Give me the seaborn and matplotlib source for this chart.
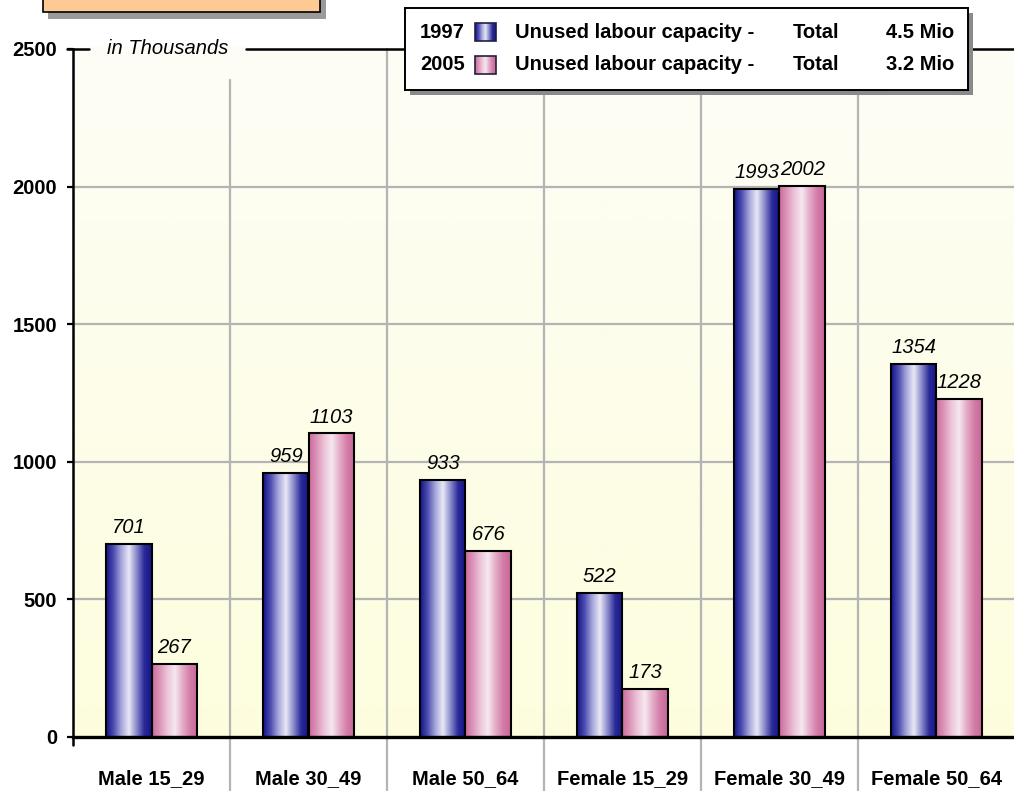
import numpy as np
import pandas as pd
import matplotlib
matplotlib.use('Agg')
import matplotlib.pyplot as plt
import seaborn as sns
from matplotlib.colors import LinearSegmentedColormap
from matplotlib.patches import Rectangle

# Data
groups = ['Male 15_29', 'Male 30_49', 'Male 50_64', 'Female 15_29', 'Female 30_49', 'Female 50_64']
years = ['1997', '2005']
values_1997 = [701, 959, 933, 522, 1993, 1354]
values_2005 = [267, 1103, 676, 173, 2002, 1228]
totals = ['4.5 Mio', '3.2 Mio']
y_ticks = [0, 500, 1000, 1500, 2000, 2500]

df = pd.DataFrame({
    'group': groups * 2,
    'year': [years[0]] * len(groups) + [years[1]] * len(groups),
    'value': values_1997 + values_2005,
})

sns.set_style('white')
plt.rcParams['font.family'] = ['Liberation Sans', 'DejaVu Sans']
plt.rcParams['text.color'] = 'black'
plt.rcParams['xtick.color'] = 'black'
plt.rcParams['ytick.color'] = 'black'
FS = 14.5

blue_cmap = LinearSegmentedColormap.from_list(
    'blue', ['#12128a', '#4e4eb0', '#a6a6dc', '#e8e8f6', '#8a8acc', '#2a2a98', '#14148a'])
pink_cmap = LinearSegmentedColormap.from_list(
    'pink', ['#cc6a9c', '#dc94b8', '#ecc4d8', '#f6e8f0', '#e4acc8', '#d47ca8', '#c86898'])
bg_cmap = LinearSegmentedColormap.from_list('bg', ['#fdfdde', '#fdfdf6'])
hgrad = np.linspace(0, 1, 256).reshape(1, -1)

fig = plt.figure(figsize=(10.14, 7.91), dpi=100)
W, H = 1014, 791
ax = fig.add_axes([73 / W, (H - 737) / H, 942 / W, 688 / H])

sns.barplot(data=df, x='group', y='value', hue='year', order=groups, hue_order=years,
            palette=['#3a3aa0', '#dc94b8'], width=0.58, gap=0, edgecolor='black',
            linewidth=1.5, legend=False, ax=ax, zorder=3)

# background gradient
ax.imshow(np.linspace(0, 1, 256).reshape(-1, 1), cmap=bg_cmap, origin='lower', aspect='auto',
          extent=[-0.5, len(groups) - 0.5, 0, 2500], zorder=0)

# gradient bars
for container, cmap in zip(ax.containers, [blue_cmap, pink_cmap]):
    for bar in container:
        x0, w, h = bar.get_x(), bar.get_width(), bar.get_height()
        ax.imshow(hgrad, cmap=cmap, aspect='auto', extent=[x0, x0 + w, 0, h], zorder=2)
        bar.set_facecolor('none')
        bar.set_zorder(3)
    ax.bar_label(container, fmt='%d', padding=5, fontsize=FS, fontstyle='italic', zorder=4)

ax.set_xlim(-0.5, len(groups) - 0.5)
ax.set_ylim(0, 2500)

# grid
for yv in y_ticks[1:-1]:
    ax.axhline(yv, color='#b4b4b4', lw=1.6, zorder=1)
for i in range(1, len(groups)):
    top = 0.955 if i == 1 else 1.0
    ax.plot([i - 0.5, i - 0.5], [-0.1, top], color='#b4b4b4', lw=1.6, zorder=1,
            transform=ax.get_xaxis_transform(), clip_on=False)

ax.set_yticks(y_ticks)
ax.set_yticklabels([str(t) for t in y_ticks], fontweight='bold', fontsize=FS)
ax.set_xticks(range(len(groups)))
ax.set_xticklabels(groups, fontweight='bold', fontsize=FS)
ax.tick_params(axis='x', length=0, pad=23)
ax.tick_params(axis='y', direction='out', length=4.5, width=1.6, color='black', pad=7, left=True)
ax.set_xlabel('')
ax.set_ylabel('')

for s in ['top', 'right']:
    ax.spines[s].set_visible(False)
ax.spines['left'].set_linewidth(1.8)
ax.spines['bottom'].set_linewidth(2.4)
ax.spines['left'].set_color('black')
ax.spines['bottom'].set_color('black')
ax.plot([0, 0], [0, -0.012], color='black', lw=1.8, transform=ax.transAxes, clip_on=False)

# top line with label, broken around the text
unit_txt = ax.text(0.1, 1.0, 'in Thousands', transform=ax.transAxes, ha='center', va='center',
                   fontsize=FS, fontstyle='italic', zorder=6)
fig.canvas.draw()
bb = unit_txt.get_window_extent().transformed(ax.transAxes.inverted())
gap = 18 / 942
ax.plot([-6 / 942, bb.x0 - gap], [1, 1], color='black', lw=1.8, transform=ax.transAxes,
        clip_on=False, zorder=5)
ax.plot([bb.x1 + gap, 1], [1, 1], color='black', lw=1.8, transform=ax.transAxes,
        clip_on=False, zorder=5)
ax.add_patch(Rectangle((bb.x0 - gap, 1 - 3 / 688), bb.width + 2 * gap, 6 / 688, transform=ax.transAxes,
                       facecolor='#fdfdf6', edgecolor='none', zorder=4, clip_on=False))

# orange box top-left
fig.patches.append(Rectangle((48 / W, (H - 19) / H), 278 / W, 40 / H, transform=fig.transFigure,
                             facecolor='#9a9a9a', edgecolor='none', zorder=1))
fig.patches.append(Rectangle((43 / W, (H - 12) / H), 277 / W, 40 / H, transform=fig.transFigure,
                             facecolor='#fdca96', edgecolor='black', lw=1.2, zorder=2))

# legend box
lx, ly, lw_, lh = 405, 8, 563, 82
fig.patches.append(Rectangle(((lx + 5) / W, (H - ly - lh - 5) / H), lw_ / W, lh / H,
                             transform=fig.transFigure, facecolor='#8a8a8a', edgecolor='none', zorder=8))
lax = fig.add_axes([lx / W, (H - ly - lh) / H, lw_ / W, lh / H], zorder=10)
lax.set_xticks([])
lax.set_yticks([])
lax.set_facecolor('white')
for s in lax.spines.values():
    s.set_linewidth(1.4)
    s.set_color('black')
for row, (yr, tot, cmap) in enumerate(zip(years, totals, [blue_cmap, pink_cmap])):
    cy = 24 + row * 33
    lax.text(15, cy, yr, ha='left', va='center', fontsize=FS, fontweight='bold')
    lax.imshow(hgrad, cmap=cmap, aspect='auto', extent=[70, 91, cy + 9, cy - 9], zorder=2)
    lax.add_patch(Rectangle((70, cy - 9), 21, 18, facecolor='none', edgecolor='#202040', lw=1.2, zorder=3))
    lax.text(110, cy, 'Unused labour capacity -', ha='left', va='center', fontsize=FS, fontweight='bold')
    lax.text(388, cy, 'Total', ha='left', va='center', fontsize=FS, fontweight='bold')
    lax.text(549, cy, tot, ha='right', va='center', fontsize=FS, fontweight='bold')
lax.set_xlim(0, lw_)
lax.set_ylim(lh, 0)

fig.savefig('out.png', dpi=100)
